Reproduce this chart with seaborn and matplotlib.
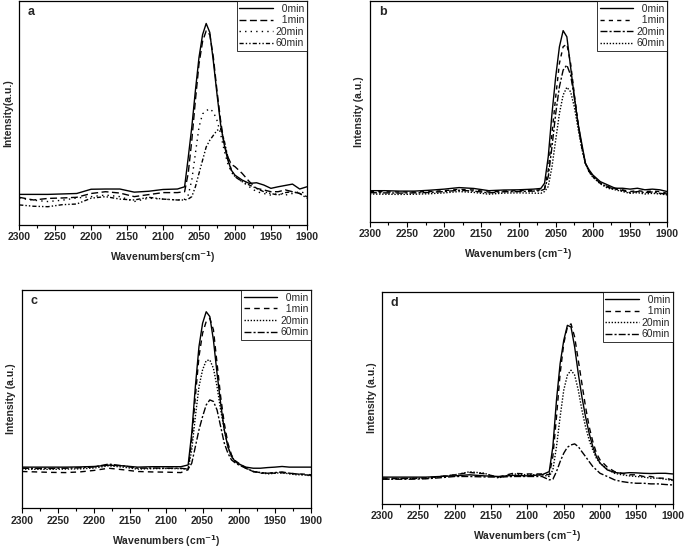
import matplotlib
matplotlib.use("Agg")
import matplotlib.pyplot as plt
from matplotlib.ticker import MultipleLocator
import seaborn as sns
import pandas as pd

sns.set_theme(style="ticks")
plt.rcParams['font.family'] = ['Liberation Sans', 'DejaVu Sans']

# wavenumber grid (cm-1), shared by all panels
wn = [2300, 2280, 2260, 2240, 2220, 2200, 2180, 2160, 2140, 2120, 2100, 2080, 2070,
      2065, 2060, 2055, 2050, 2045, 2040, 2035, 2030, 2025, 2020, 2015, 2010, 2005,
      2000, 1990, 1980, 1970, 1960, 1950, 1940, 1930, 1920, 1910, 1900]

times = ["0min", "1min", "20min", "60min"]
# legend labels padded so the text sits right-aligned like the original
labels = ["  0min", "  1min", "20min", "60min"]

# panel a
a_0 = [13.6, 13.6, 13.6, 13.8, 14.0, 15.9, 16.0, 16.0, 14.6, 15.0, 15.8, 16.0, 17.0, 30.0, 43.7, 60.0, 74.8, 85.0, 90.0, 86.0, 73.0, 58.5, 45.0, 36.0, 29.0, 24.4, 22.2, 20.0, 18.5, 18.8, 17.8, 16.3, 17.0, 17.6, 18.2, 16.0, 17.0]
a_1 = [12.3, 11.1, 11.8, 12.0, 12.3, 14.0, 14.8, 14.2, 12.6, 13.5, 14.4, 14.4, 14.8, 23.0, 37.8, 55.6, 71.9, 82.0, 86.7, 85.0, 74.8, 60.0, 46.7, 36.0, 30.4, 27.0, 26.0, 23.0, 19.3, 16.3, 15.6, 14.8, 14.8, 15.6, 14.8, 14.0, 12.6]
a_20 = [11.9, 11.0, 10.4, 11.0, 12.0, 12.6, 13.3, 12.6, 10.4, 11.9, 11.5, 11.1, 11.4, 13.3, 20.0, 31.9, 43.7, 49.6, 51.0, 51.9, 50.4, 46.7, 40.7, 33.3, 27.4, 23.5, 21.5, 19.3, 17.0, 14.8, 14.0, 13.3, 14.0, 13.3, 14.0, 14.8, 14.0]
a_60 = [8.9, 8.3, 8.1, 9.0, 9.3, 11.9, 12.6, 11.5, 11.1, 12.3, 11.5, 11.1, 11.1, 11.5, 12.6, 17.0, 23.0, 28.9, 34.8, 37.8, 40.0, 42.2, 43.0, 37.8, 30.4, 24.4, 21.5, 19.3, 17.8, 16.3, 14.8, 14.0, 13.3, 14.4, 14.8, 14.0, 11.9]

# panel b
b_0 = [14.0, 14.0, 13.8, 13.8, 14.2, 14.7, 15.4, 15.0, 14.0, 14.3, 14.4, 14.7, 15.0, 17.4, 29.5, 49.0, 65.7, 79.3, 86.6, 83.8, 70.2, 56.6, 44.6, 35.5, 26.4, 23.4, 21.1, 18.1, 16.6, 15.1, 15.1, 14.7, 15.1, 14.4, 14.7, 14.4, 13.6]
b_1 = [13.6, 13.5, 13.4, 13.4, 13.6, 14.0, 14.6, 14.3, 13.4, 13.8, 14.0, 14.2, 14.4, 15.0, 23.4, 40.0, 56.6, 71.8, 79.3, 80.5, 71.8, 58.0, 44.6, 34.0, 26.4, 22.7, 20.4, 17.4, 15.9, 15.1, 14.4, 13.6, 14.0, 13.6, 13.8, 13.6, 12.8]
b_20 = [13.1, 13.0, 12.9, 13.0, 13.2, 13.6, 14.2, 13.8, 13.0, 13.5, 13.6, 13.8, 14.0, 14.7, 20.4, 34.0, 49.0, 61.2, 68.7, 71.0, 66.5, 56.6, 44.6, 34.0, 26.4, 22.7, 20.4, 17.4, 15.6, 14.7, 14.1, 13.1, 13.6, 13.1, 13.4, 12.8, 12.5]
b_60 = [12.5, 12.4, 12.3, 12.4, 12.6, 13.0, 13.6, 13.2, 12.4, 12.9, 13.0, 12.9, 12.8, 13.6, 15.9, 24.9, 37.0, 49.0, 57.4, 60.9, 58.9, 52.1, 42.3, 33.2, 26.4, 22.4, 20.1, 17.1, 15.1, 14.4, 13.6, 12.8, 13.1, 12.5, 12.8, 12.5, 12.1]

# panel c
c_0 = [18.8, 18.8, 18.8, 18.8, 18.9, 19.1, 19.7, 19.4, 18.8, 19.0, 19.0, 19.0, 19.8, 34.4, 55.7, 74.0, 84.7, 90.0, 87.8, 77.0, 61.8, 48.0, 35.9, 28.2, 23.7, 21.4, 20.3, 18.8, 18.3, 18.3, 18.6, 18.8, 19.1, 18.8, 18.8, 18.8, 18.8]
c_1 = [16.8, 16.6, 16.4, 16.3, 16.6, 17.3, 18.3, 17.6, 16.8, 16.6, 16.5, 16.3, 17.6, 31.3, 51.1, 69.5, 80.2, 85.5, 87.0, 81.7, 66.4, 51.1, 38.9, 29.8, 24.4, 21.8, 20.6, 18.3, 16.8, 16.0, 16.2, 16.0, 16.2, 16.0, 15.7, 15.6, 15.3]
c_20 = [17.9, 17.8, 17.8, 17.9, 18.0, 18.4, 19.4, 18.8, 17.9, 18.1, 18.2, 18.1, 17.9, 26.7, 42.0, 55.7, 63.4, 67.6, 67.9, 64.1, 55.7, 45.0, 35.9, 28.2, 23.7, 21.4, 20.3, 18.3, 16.8, 16.3, 15.7, 16.0, 16.3, 15.7, 15.3, 15.3, 14.8]
c_60 = [18.3, 18.2, 18.2, 18.3, 18.5, 18.9, 20.2, 19.4, 18.3, 18.4, 18.3, 18.3, 17.9, 20.6, 28.2, 35.9, 42.0, 47.3, 49.6, 48.9, 45.0, 37.4, 29.8, 25.2, 22.1, 20.8, 19.8, 18.3, 16.8, 16.3, 16.0, 16.3, 16.6, 16.0, 15.7, 15.3, 15.1]

# panel d
d_0 = [12.6, 12.6, 12.6, 12.6, 12.9, 13.2, 13.7, 13.2, 12.9, 13.4, 13.2, 13.7, 15.2, 27.0, 49.0, 66.2, 77.2, 84.3, 83.5, 74.1, 61.5, 50.5, 41.1, 33.3, 27.0, 22.3, 19.2, 16.0, 14.8, 14.4, 14.7, 14.6, 14.4, 14.3, 14.4, 14.4, 14.1]
d_1 = [12.1, 12.0, 12.0, 12.2, 12.9, 13.7, 14.8, 14.2, 12.6, 14.4, 14.1, 14.1, 13.7, 22.3, 41.1, 61.5, 75.7, 83.5, 85.0, 78.8, 67.8, 56.8, 45.8, 36.4, 29.4, 23.9, 20.7, 17.3, 15.2, 14.4, 13.7, 13.7, 12.9, 12.9, 12.1, 12.1, 11.3]
d_20 = [11.6, 11.8, 12.0, 12.0, 12.8, 13.7, 15.1, 14.5, 12.2, 14.1, 13.7, 13.7, 12.9, 16.0, 27.0, 41.1, 53.7, 60.8, 63.1, 60.8, 53.7, 44.3, 36.4, 30.1, 25.4, 21.5, 19.2, 16.3, 14.4, 13.7, 13.2, 12.9, 12.6, 12.1, 12.1, 11.6, 11.0]
d_60 = [11.6, 11.6, 11.6, 11.8, 12.3, 12.9, 12.9, 12.7, 12.6, 12.9, 12.9, 12.9, 11.3, 11.6, 15.2, 19.9, 23.9, 26.7, 27.8, 28.3, 27.0, 24.6, 22.3, 19.9, 17.6, 16.0, 14.4, 12.9, 11.3, 10.5, 10.0, 9.7, 9.7, 9.4, 9.4, 9.1, 8.9]

# dash patterns per panel (0, 1, 20, 60 min)
dash_a = ["", (5, 2.5), (1, 3), (3, 1.5, 1, 1.5, 1, 1.5)]
dash_b = ["", (3, 3), (5, 1.5, 1.5, 1.5), (1, 1.2)]
dash_cd = ["", (4, 3), (1, 1.2), (5, 1.5, 1.5, 1.5)]

panels = [
    ("a", [a_0, a_1, a_20, a_60], dash_a, [0.028, 0.589, 0.420, 0.409],
     "Intensity(a.u.)", "Wavenumbers(cm$^{\\mathbf{-1}}$)"),
    ("b", [b_0, b_1, b_20, b_60], dash_b, [0.540, 0.595, 0.434, 0.403],
     "Intensity (a.u.)", "Wavenumbers (cm$^{\\mathbf{-1}}$)"),
    ("c", [c_0, c_1, c_20, c_60], dash_cd, [0.032, 0.071, 0.422, 0.399],
     "Intensity (a.u.)", "Wavenumbers (cm$^{\\mathbf{-1}}$)"),
    ("d", [d_0, d_1, d_20, d_60], dash_cd, [0.558, 0.079, 0.424, 0.387],
     "Intensity (a.u.)", "Wavenumbers (cm$^{\\mathbf{-1}}$)"),
]

fig = plt.figure(figsize=(6.85, 5.47), dpi=100)

for letter, series, dashes, pos, ylab, xlab in panels:
    ax = fig.add_axes(pos)
    df = pd.concat([pd.DataFrame({"wn": wn, "I": s, "t": lab})
                    for s, lab in zip(series, labels)])
    sns.lineplot(data=df, x="wn", y="I", style="t", style_order=labels,
                 dashes=dashes, color="black", linewidth=1.0,
                 estimator=None, sort=False, ax=ax)
    ax.set_xlim(2300, 1900)
    ax.set_ylim(0, 100)
    ax.xaxis.set_major_locator(MultipleLocator(50))
    ax.xaxis.set_minor_locator(MultipleLocator(25))
    ax.tick_params(axis="x", which="major", direction="out", length=3.5,
                   width=0.8, labelsize=7.5, pad=2, color="black")
    ax.tick_params(axis="x", which="minor", direction="out", length=2,
                   width=0.8, color="black")
    ax.set_yticks([])
    for lbl in ax.get_xticklabels():
        lbl.set_fontweight("bold")
    for sp in ax.spines.values():
        sp.set_visible(True)
        sp.set_color("black")
        sp.set_linewidth(0.9)
    ax.set_ylabel(ylab, fontsize=7.5, fontweight="bold", labelpad=4)
    ax.set_xlabel(xlab, fontsize=7.5, fontweight="bold", labelpad=5)
    ax.text(0.03, 0.95, letter, transform=ax.transAxes, fontsize=9,
            fontweight="bold", ha="left", va="center")
    leg = ax.legend(loc="upper right", borderaxespad=0, fontsize=7.5,
                    frameon=True, fancybox=False, handlelength=3.2,
                    handletextpad=0.3, labelspacing=0.15, borderpad=0.25)
    leg.get_frame().set_edgecolor("black")
    leg.get_frame().set_linewidth(0.7)

fig.savefig("out.png", dpi=100)
